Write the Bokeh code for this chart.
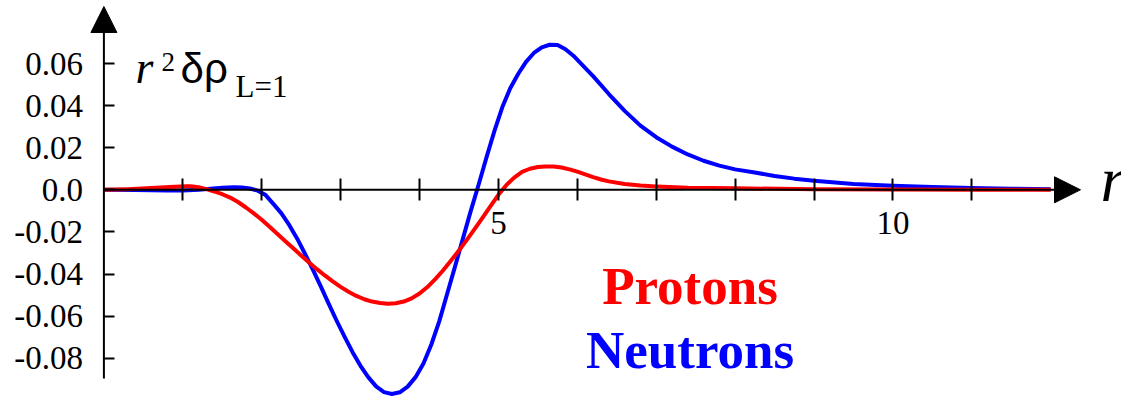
from bokeh.plotting import figure
from bokeh.models import FixedTicker, Arrow, NormalHead, Label
from bokeh.embed import file_html
from bokeh.resources import INLINE

# r^2 * delta rho for the L=1 transition density, neutrons and protons
r_neutrons = [0.0, 0.4, 0.8, 1.0, 1.2, 1.35, 1.5, 1.65, 1.75, 1.85, 1.95, 2.05,
              2.15, 2.25, 2.35, 2.45, 2.55, 2.65, 2.75, 2.85, 2.95, 3.05, 3.15,
              3.25, 3.35, 3.45, 3.55, 3.65, 3.75, 3.85, 3.95, 4.05, 4.15, 4.25,
              4.35, 4.45, 4.55, 4.65, 4.75, 4.85, 4.95, 5.05, 5.15, 5.25, 5.35,
              5.45, 5.55, 5.65, 5.75, 5.85, 5.95, 6.05, 6.2, 6.4, 6.6, 6.8, 7.0,
              7.2, 7.4, 7.6, 7.8, 8.0, 8.25, 8.5, 8.75, 9.0, 9.5, 10.0, 10.5,
              11.0, 11.5, 12.0]
neutrons = [0.0, -0.0001, -0.0003, -0.0003, 0.0, 0.0005, 0.0010, 0.0012, 0.0011,
            0.0006, -0.0004, -0.0025, -0.0068, -0.0112, -0.0168, -0.0232,
            -0.0305, -0.0380, -0.0460, -0.0542, -0.0622, -0.0698, -0.0770,
            -0.0835, -0.0890, -0.0934, -0.0961, -0.0970, -0.0962, -0.0935,
            -0.0890, -0.0825, -0.0735, -0.0625, -0.0495, -0.0365, -0.0232,
            -0.0100, 0.0025, 0.0155, 0.0280, 0.0393, 0.0482, 0.0550, 0.0608,
            0.0650, 0.0677, 0.0689, 0.0688, 0.0668, 0.0637, 0.0598, 0.0540,
            0.0455, 0.0375, 0.0305, 0.0250, 0.0205, 0.0168, 0.0138, 0.0115,
            0.0097, 0.0082, 0.0066, 0.0053, 0.0043, 0.0028, 0.0019, 0.0013,
            0.0009, 0.0005, 0.0003]

r_protons = [0.0, 0.3, 0.6, 0.9, 1.05, 1.1, 1.2, 1.3, 1.4, 1.5, 1.6, 1.7, 1.8,
             1.9, 2.0, 2.1, 2.2, 2.3, 2.4, 2.5, 2.6, 2.7, 2.8, 2.9, 3.0, 3.1,
             3.2, 3.3, 3.4, 3.5, 3.6, 3.7, 3.8, 3.9, 4.0, 4.1, 4.2, 4.3, 4.4,
             4.5, 4.6, 4.7, 4.8, 4.9, 5.0, 5.1, 5.2, 5.3, 5.4, 5.5, 5.6, 5.7,
             5.8, 5.9, 6.0, 6.1, 6.2, 6.3, 6.4, 6.6, 6.8, 7.0, 7.4, 8.0, 9.0,
             10.0, 11.0, 12.0]
protons = [0.0, 0.0003, 0.0008, 0.0015, 0.0017, 0.0017, 0.0012, 0.0003, -0.0008,
           -0.0021, -0.0037, -0.0058, -0.0084, -0.0112, -0.0142, -0.0176,
           -0.0210, -0.0244, -0.0278, -0.0312, -0.0345, -0.0377, -0.0407,
           -0.0435, -0.0461, -0.0484, -0.0504, -0.0520, -0.0531, -0.0538,
           -0.0541, -0.0539, -0.0531, -0.0516, -0.0493, -0.0462, -0.0424,
           -0.0382, -0.0336, -0.0288, -0.0238, -0.0186, -0.0132, -0.0078,
           -0.0024, 0.0022, 0.0058, 0.0085, 0.0100, 0.0108, 0.0111, 0.0111,
           0.0106, 0.0097, 0.0086, 0.0073, 0.0060, 0.0049, 0.0040, 0.0028,
           0.0020, 0.0016, 0.0010, 0.0007, 0.0003, 0.0001, 0.0, 0.0]

x_ticks = [1, 2, 3, 4, 5, 6, 7, 8, 9, 10, 11]
x_tick_labels = ["", "", "", "", "5", "", "", "", "", "10", ""]
y_ticks = [-0.08, -0.06, -0.04, -0.02, 0.0, 0.02, 0.04, 0.06]
y_tick_labels = ["-0.08", "-0.06", "-0.04", "-0.02", "0.0", "0.02", "0.04", "0.06"]

assert len(r_neutrons) == len(neutrons)
assert len(r_protons) == len(protons)

# canvas geometry (pixels) and the data <-> pixel mapping used for annotations
W, H = 1121, 396
ORIGIN_X, ORIGIN_Y = 103.4, 189.3      # pixel position of (r=0, 0)
PX_PER_R, PX_PER_UNIT = 78.9, 2105.0


def rx(px):
    return (px - ORIGIN_X) / PX_PER_R


def vy(py):
    return (ORIGIN_Y - py) / PX_PER_UNIT


SERIF = "Liberation Serif"
BLUE, RED, INK = "#0000ff", "#ff0000", "#000000"
TEXT_LIFT = 0.36   # em; raises label text so its baseline lands on the target row

p = figure(width=W, height=H, x_range=(rx(0), rx(W)), y_range=(vy(H), vy(0)),
           output_backend="svg", toolbar_location=None,
           min_border_left=0, min_border_right=0, min_border_top=0, min_border_bottom=0)
p.grid.visible = False
p.outline_line_color = None
p.background_fill_color = "white"
p.border_fill_color = "white"

# curves
p.line(r_neutrons, neutrons, line_color=BLUE, line_width=4, line_join="round")
p.line(r_protons, protons, line_color=RED, line_width=4, line_join="round")

# x axis through y = 0, ticks crossing the line
xa = p.xaxis[0]
xa.fixed_location = 0
xa.ticker = FixedTicker(ticks=x_ticks, minor_ticks=[])
xa.major_label_overrides = dict(zip(x_ticks, x_tick_labels))
xa.axis_line_color = None
xa.major_tick_in = 11
xa.major_tick_out = 11
xa.major_tick_line_width = 2
xa.major_tick_line_color = INK
xa.minor_tick_line_color = None
xa.major_label_standoff = 11
xa.major_label_text_font = SERIF
xa.major_label_text_font_size = "33px"
xa.major_label_text_color = INK

# y axis through r = 0, ticks pointing right
ya = p.yaxis[0]
ya.fixed_location = 0
ya.ticker = FixedTicker(ticks=y_ticks, minor_ticks=[])
ya.major_label_overrides = dict(zip(y_ticks, y_tick_labels))
ya.axis_line_color = None
ya.major_tick_in = 11
ya.major_tick_out = 0
ya.major_tick_line_width = 2
ya.major_tick_line_color = INK
ya.minor_tick_line_color = None
ya.major_label_standoff = 21
ya.major_label_text_font = SERIF
ya.major_label_text_font_size = "33px"
ya.major_label_text_color = INK

# axis lines with arrow heads
p.add_layout(Arrow(x_start=0, y_start=0, x_end=rx(1080), y_end=0,
                   line_color=INK, line_width=2,
                   end=NormalHead(size=26, fill_color=INK, line_color=INK, line_width=1)))
p.add_layout(Arrow(x_start=0, y_start=vy(378), x_end=0, y_end=vy(6),
                   line_color=INK, line_width=2,
                   end=NormalHead(size=26, fill_color=INK, line_color=INK, line_width=1)))


def text_at(px, baseline_py, text, size, color=INK, font=SERIF, style="normal",
            align="left"):
    lift = TEXT_LIFT * size
    p.add_layout(Label(x=rx(px), y=vy(baseline_py - lift), text=text,
                       text_font=font, text_font_style=style,
                       text_font_size=f"{size}px", text_color=color,
                       text_align=align, text_baseline="alphabetic"))


# axis titles
text_at(1100, 201.7, "r", 64, style="italic")
text_at(135, 83.3, "r", 46, style="italic")
text_at(161, 71.7, "2", 27)
text_at(180, 83.3, "δρ", 42, font="Liberation Sans")
text_at(235, 97.3, "L=1", 31)

# series names
text_at(689.5, 305, "Protons", 53, color=RED, style="bold", align="center")
text_at(689.5, 369, "Neutrons", 53, color=BLUE, style="bold", align="center")

open("out.html", "w").write(file_html(p, INLINE))
